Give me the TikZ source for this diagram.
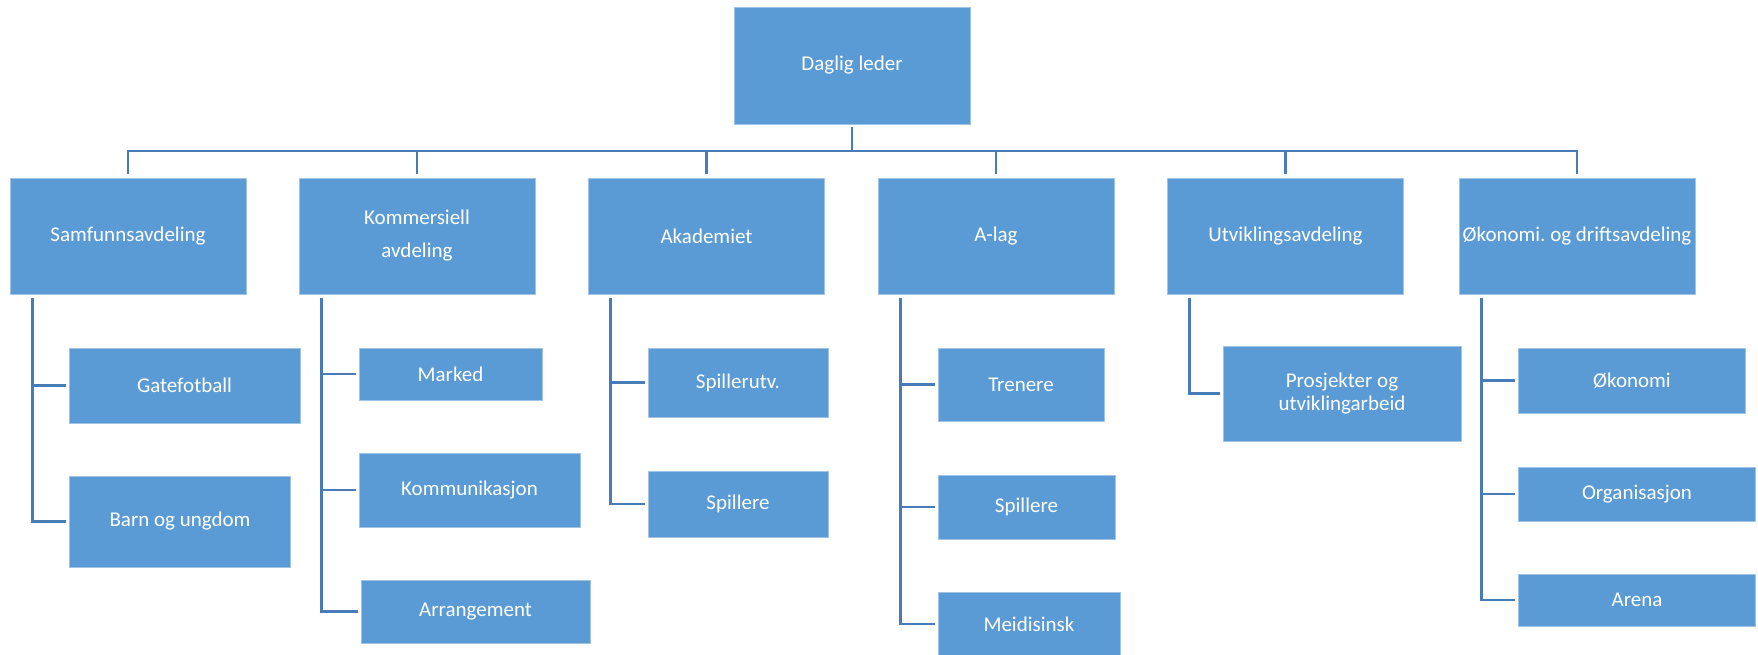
\documentclass[tikz,border=0pt]{standalone}
\usepackage{fontspec}
\setmainfont{Carlito}
\usepackage{tikz}
\frenchspacing

\definecolor{boxblue}{RGB}{91,155,213}
\definecolor{edgeblue}{RGB}{160,195,230}
\definecolor{lineblue}{RGB}{72,124,184}

\tikzset{
    unit/.style={rectangle,fill=boxblue,draw=edgeblue,line width=0.8pt,text=white,
        font=\fontsize{21}{33}\selectfont,align=center,inner sep=0pt},
    link/.style={draw=lineblue,line width=2.8pt},
    sublink/.style={link,shorten <=3.5pt,shorten >=3pt}
}

\begin{document}
\begin{tikzpicture}[x=1pt,y=-1pt]
                \useasboundingbox (0,0) rectangle (1758,654);

                \node (dl) at (852,65.5) [unit,minimum width=236,minimum height=117] {Daglig leder};
                \coordinate (bus) at (852,151);

                \node (samf) at (128,236) [unit,minimum width=236,minimum height=116] {Samfunnsavdeling};
                \node (komm) at (417,236) [unit,minimum width=236,minimum height=116] {Kommersiell\\avdeling};
                \node (akad) at (706.5,236) [unit,minimum width=236,minimum height=116] {Akademiet};
                \node (alag) at (996,236) [unit,minimum width=236,minimum height=116] {A-lag};
                \node (utv) at (1285.5,236) [unit,minimum width=236,minimum height=116] {Utviklingsavdeling};
                \node (okd) at (1577,236) [unit,minimum width=236,minimum height=116] {Økonomi. og driftsavdeling};

                \node (gate) at (184.5,385.5) [unit,minimum width=231,minimum height=75] {Gatefotball};
                \node (barn) at (180,521.5) [unit,minimum width=221,minimum height=91] {Barn og ungdom};

                \node (marked) at (450.5,374) [unit,minimum width=183,minimum height=52] {Marked};
                \node (kommu) at (469.5,490) [unit,minimum width=221,minimum height=74] {Kommunikasjon};
                \node (arr) at (475.5,611.5) [unit,minimum width=229,minimum height=63] {Arrangement};

                \node (sputv) at (738,382.5) [unit,minimum width=180,minimum height=69] {Spillerutv.};
                \node (spa) at (738,504) [unit,minimum width=180,minimum height=66] {Spillere};

                \node (tren) at (1021,384.5) [unit,minimum width=166,minimum height=73] {Trenere};
                \node (spb) at (1026.5,507) [unit,minimum width=177,minimum height=64] {Spillere};
                \node (meid) at (1029,624) [unit,minimum width=182,minimum height=64] {Meidisinsk};

                \node (prosj) at (1342,393.5) [unit,minimum width=238,minimum height=95,font=\fontsize{21}{22.5}\selectfont] {Prosjekter og\\utviklingarbeid};

                \node (okon) at (1632,380.5) [unit,minimum width=227,minimum height=65] {Økonomi};
                \node (org) at (1637,494) [unit,minimum width=237,minimum height=54] {Organisasjon};
                \node (arena) at (1637,600) [unit,minimum width=237,minimum height=52] {Arena};

                \draw[link,shorten <=3pt] (dl.south) -- (bus);
                \foreach \d in {samf,komm,akad,alag,utv,okd}
                    \draw[link,shorten >=4pt] (bus) -| (\d.north);

                \foreach \p/\c in {samf/gate,samf/barn,komm/marked,komm/kommu,komm/arr,akad/sputv,akad/spa,
                                   alag/tren,alag/spb,alag/meid,utv/prosj,okd/okon,okd/org,okd/arena}
                    \draw[sublink] ([xshift=22.5pt]\p.south west) |- (\c.west);
            \end{tikzpicture}
\end{document}
